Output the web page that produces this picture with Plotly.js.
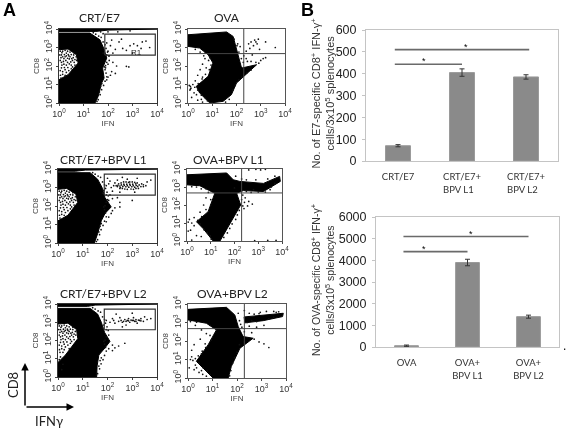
<!DOCTYPE html>
<html><head><meta charset="utf-8">
<script src="https://cdn.plot.ly/plotly-3.0.1.min.js"></script>
<style>html,body{margin:0;padding:0;background:#fff}#c{width:567px;height:428px;filter:blur(.45px)}</style>
</head><body><div id="c"></div>
<script>
// Bar chart data
const e7Categories=['CRT/E7','CRT/E7+<br>BPV L1\u00a0\u00a0\u00a0','CRT/E7+<br>BPV L2\u00a0\u00a0\u00a0'];
const e7Values=[70,405,385];
const e7Errors=[5,17,10];
const ovaCategories=['OVA','OVA+<br>BPV L1','OVA+<br>BPV L2'];
const ovaValues=[60,3900,1400];
const ovaErrors=[30,150,70];
const groupIndex=[0,1,2];
const e7SigTop=510, e7SigLow=443, ovaSigTop=5100, ovaSigLow=4400;
// Flow panels: [log10 IFN, log10 CD8] readings
const holeDots=[[.1,2.6],[.2,2.4],[.3,2.7],[.45,2.5],[.55,2.3],[.2,2.1],[.35,2.2],[.1,1.9],[.5,2.05],[.25,1.8],[.6,2.6],[.15,1.55],[.4,1.75],[.3,2.55],[.65,2.35],[.05,2.3],[.45,2.75],[.15,2.8],[.08,2.45],[.28,2.3],[.42,2.38],[.58,2.45],[.7,2.5],[.62,2.2],[.5,2.62],[.38,2.62],[.22,2.62],[.12,2.72],[.03,2.6],[.18,2.25],[.3,2.05],[.42,2.12],[.12,2.05],[.22,1.92],[.36,1.92],[.5,1.85],[.05,1.75],[.15,1.7],[.3,1.65],[.06,1.5],[.25,1.5],[.08,1.35],[.55,1.95],[.65,2.05],[.72,2.3],[.48,2.22],[.35,2.42],[.25,2.5],[.1,2.2],[.35,2.8],[.6,2.72],[.25,2.85],[.05,2.8],[.15,2.5],[.52,2.4],[.4,2.55]];
const rightEdgeDots=[[1.72,3.55],[1.8,3.3],[1.88,3.15],[1.92,2.95],[1.98,2.75],[2.03,2.55],[2.05,2.3],[1.95,2.2],[1.9,2.02],[1.88,1.8],[1.92,1.62],[1.95,1.42],[1.88,1.18],[1.82,.95],[1.74,.72],[1.68,.45],[1.6,.18],[1.55,.08],[1.75,1.05],[1.8,2.7],[1.62,3.62],[1.5,3.72],[1.4,3.8],[1.95,2.6],[1.85,2.85],[1.85,1.95],[1.7,.9],[1.65,.6]];
const p1Main=[[0,3.78],[1.26,3.78],[1.67,3.42],[1.82,2.97],[1.95,2.43],[1.78,1.89],[1.84,1.35],[1.74,1.08],[1.6,.36],[1.47,0],[0,0],[0,1.26],[.37,1.53],[.78,2.16],[.71,2.61],[.37,2.92],[0,2.88]];
const p1Strip=[[0,3.87],[1.5,3.87],[2,3.94],[4,3.97],[4,4],[0,4]];
const p1Dots=[[2.1,3.1],[2.3,2.9],[2.45,3.3],[2.6,2.95],[2.75,2.85],[2.9,3.1],[3.05,3.2],[3.2,3.1],[3.35,2.95],[3.4,3.3],[3.55,3.35],[3.7,3.0],[2.2,2.7],[2.0,2.8],[1.95,3.25],[2.05,2.55],[2.2,2.2],[2.35,2.0],[2.75,1.98],[2.85,1.95],[2.3,1.6],[2.1,1.5],[2,1.4],[1.95,1.25],[2.15,1.7],[1.9,1.9],[2,2.1],[2.55,3.45],[3.0,2.7],[2.15,3.4],[1.8,3.75],[2,3.85],[1.7,3.85],[2.4,3.85],[2.9,3.9]];
const p2Main=[[0,3.69],[1.59,3.84],[1.86,3.6],[2,2.88],[2.17,1.98],[2.21,1.89],[2.83,2.07],[2.34,1.48],[2,1.08],[1.79,.45],[1.45,.09],[.9,0],[.48,.54],[.34,.9],[.83,1.44],[1.03,2.16],[.83,2.61],[.48,2.97],[0,3.06]];
const p2Dots=[[2.5,3.2],[2.6,3.3],[2.75,3.4],[2.8,3.3],[2.7,3.1],[2.85,3.2],[2.9,3.45],[2.55,2.95],[3.2,3.3],[3.6,3.0],[2.4,2.8],[2.95,2.9],[2.65,2.6],[2.4,2.4],[3,2.3],[3.1,2.4],[3.2,2.45],[2.3,2.55],[2.15,3.05],[2.05,3.2],[.7,2.4],[.6,2.1],[.5,1.8],[.4,1.5],[.75,1.9],[.6,1.4],[.3,1.2],[.2,1.0],[.1,.9],[.12,.8],[.08,.7],[.25,.55],[.15,.3],[.4,.15],[.6,.05],[.55,.2],[.05,.95],[.1,.75],[.65,2.55],[.85,2.3],[.5,2.75],[.3,2.9],[.7,2.7],[.9,2.45],[.95,2.05],[.88,1.8],[.72,1.55],[.58,1.3],[.42,1.05],[.28,.85],[.4,.7],[.35,.45],[.55,.42],[.72,.25],[.8,.12],[1.9,3.45],[2.02,3.1],[2.1,2.75],[2.2,2.4],[2.28,2.2],[2.45,2.25],[2.6,2.25],[2.8,2.2],[2.92,2.15],[1.95,.95],[2.1,1.25],[2.22,1.4],[1.85,.7],[1.7,.2],[1.55,.05],[2.42,1.62],[2.6,1.78]];
const p3Main=[[0,3.8],[1.3,3.8],[1.6,3.45],[1.78,3.0],[1.9,2.45],[2.15,1.95],[1.9,1.6],[1.75,1.2],[1.6,.5],[1.47,0],[0,0],[0,1.2],[.4,1.5],[.8,2.2],[.72,2.65],[.35,2.95],[0,2.9]];
const p3Strip=[[0,3.88],[.7,3.88],[1.1,3.94],[4,3.97],[4,4],[0,4]];
const p3Dots=[[1.95,3.1],[2.05,3.2],[2.15,3.0],[2.25,3.1],[2.3,3.25],[2.4,3.05],[2.45,3.2],[2.5,2.95],[2.55,3.25],[2.6,2.95],[2.65,3.3],[2.7,2.92],[2.75,3.3],[2.8,2.9],[2.85,3.28],[2.9,3.3],[2.95,2.92],[3,3.3],[3.05,2.9],[3.1,3.28],[3.15,2.95],[3.2,3.25],[3.25,2.95],[3.35,3.05],[3.38,3.2],[3.45,3.05],[3.45,3.15],[3.55,3.1],[3.6,3.3],[3.75,3.4],[2.2,2.8],[2.5,2.75],[2.8,3.45],[3.1,2.75],[2.4,3.4],[2.1,2.6],[2,2.35],[2.2,2.4],[2.4,2.45],[2.5,2.2],[3,2.3],[2.3,1.9],[2.5,1.95],[2.2,1.75],[2.05,1.4],[1.95,1.15],[2.15,1.6],[2.1,3.35],[2,3.5],[2.6,3.55],[3.2,3.5],[2.35,3.1],[2.42,3.12],[2.5,3.08],[2.56,3.14],[2.62,3.06],[2.68,3.12],[2.74,3.04],[2.8,3.1],[2.86,3.02],[2.92,3.12],[2.98,3.04],[3.04,3.1],[3.1,3.02],[3.16,3.12],[3.22,3.06],[3.28,3.14],[2.52,3.0],[2.66,3.18],[2.78,3.18],[2.9,3.18],[3.02,3.18],[3.14,3.2]];
const p4Main=[[0,3.68],[1.67,3.78],[1.95,3.4],[2.23,3.31],[3.22,3.2],[3.9,3.59],[3.93,3.31],[3.22,2.75],[2.37,2.8],[2.09,2.65],[2.26,2],[1.94,1.25],[1.67,.6],[1.39,0],[1.1,0],[.68,.69],[.4,1.07],[.89,1.63],[1.17,2.65],[.54,3.07],[0,3.12]];
const p4Dots=[[2.5,2.75],[2.7,2.7],[3,2.72],[3.3,2.72],[3.5,2.85],[2.45,2.4],[2.6,2.2],[2.75,2.05],[2.55,1.95],[2.4,1.8],[2.3,2.3],[2.5,3.4],[2.6,3.95],[2.9,3.98],[3.1,3.95],[3.3,3.98],[.8,2.4],[.7,2],[.55,1.6],[.3,1.3],[.2,1.0],[.1,1.2],[.05,1.05],[.3,.85],[.15,.6],[.4,.3],[.6,.25],[.05,.55],[.6,2.9],[.4,3.0],[.9,2.7],[.2,.05],[2.85,.02],[3.4,.03],[3.75,.03],[1,2.3],[1,2.0],[.8,1.75],[.62,1.35],[.45,1.15],[.55,.95],[.72,.62],[.85,.48],[.98,.28],[1.02,.1],[2.35,2.55],[2.42,2.15],[2.35,1.95],[2.2,1.7],[2.12,1.45],[2.05,1.2],[1.9,.95],[1.8,.7],[1.7,.45],[1.55,.2],[.2,3.02],[.8,2.9],[2.0,2.95],[2.05,3.6],[2.3,3.45],[2.9,3.4],[3.4,3.45],[3.7,3.6],[3.55,3.0],[3.7,3.2],[2.8,2.85]];
const p5Main=[[0,3.76],[1.3,3.76],[1.6,3.45],[1.75,3],[1.88,2.45],[2.1,1.95],[1.9,1.6],[1.65,1.2],[1.58,.6],[1.56,0],[0,0],[0,.8],[.3,1.2],[.8,2.1],[.75,2.6],[.4,2.95],[0,2.9]];
const p5Strip=[[0,3.87],[1.2,3.87],[1.5,3.94],[4,3.97],[4,4],[0,4]];
const p5Dots=[[1.95,3.1],[2.1,3.0],[2.2,3.2],[2.3,2.95],[2.45,3.05],[2.5,3.25],[2.6,3.0],[2.7,3.15],[2.75,2.85],[2.8,3.1],[2.85,3.2],[2.9,3.0],[3,3.1],[3.05,3.25],[3.1,3.05],[3.15,3.15],[3.2,2.95],[3.3,3.1],[3.35,3.2],[3.45,3.05],[3.5,3.3],[3.6,3.15],[3.75,3.2],[2.35,3.45],[3.0,3.5],[2.6,2.75],[2.2,1.75],[2.3,1.6],[2.45,1.7],[2.2,1.45],[2.7,1.85],[2.05,1.55],[2.25,3.1],[2.55,3.1],[2.65,3.05],[2.75,3.05],[2.85,3.08],[2.95,3.12],[3.05,3.1],[3.15,3.05],[3.25,3.12],[3.35,3.08],[.2,1.35],[.45,1.55],[.1,1.1],[.05,.95],[.15,.4],[.2,.7]];
const p6Main=[[0,3.71],[1.57,3.82],[1.91,3.41],[2.05,2.78],[2.25,2.24],[2.66,2.15],[2.12,1.61],[1.77,.63],[1.64,0],[1.02,0],[.34,.9],[.82,1.79],[1.16,2.6],[.75,2.96],[0,3.14]];
const p6Pos=[[2.29,3.3],[3.07,3.4],[3.89,3.5],[3.86,3.32],[3.07,3.1],[2.32,2.98]];
const p6Dots=[[2.1,3.1],[2.15,2.9],[2.2,2.75],[2.5,2.8],[2.8,2.75],[3.1,2.85],[2.5,3.5],[2.95,3.55],[2.7,2.1],[2.9,1.95],[3.1,1.85],[3.3,1.65],[2.6,2.45],[2.3,2.5],[.1,3.05],[.3,2.85],[.55,2.6],[.75,2.4],[.5,2.1],[.7,1.85],[.25,1.8],[.15,1.5],[.55,1.3],[.2,.95],[.1,1],[.3,.7],[.25,.45],[.45,.3],[.6,.2],[.35,.55],[.55,.4],[.75,.1],[.05,.55],[.15,1.15],[3.5,3.6],[3.2,3.6],[2.3,3.65],[2.05,3.5],[.9,2.3],[.95,2.05],[.72,1.65],[.58,1.45],[.42,1.2],[.3,1.05],[.45,.8],[.62,.55],[.78,.38],[.9,.2],[2.3,1.95],[2.1,1.8],[2.0,1.4],[1.9,1.1],[1.82,.8],[1.75,.4],[1.7,.12],[3.6,3.55],[3.7,3.58],[2.7,3.45],[2.9,3.48],[3.3,3.2],[3.5,3.28],[2.6,3.1],[2.8,3.05],[2.42,3.0],[.9,2.85],[.35,3.02]];
const gate={x:[1.87,3.93],y:[2.59,3.72]};
const quad={x:2.3,y:2.67};
const logTicks=[1,10,100,1000,10000];
const logLabels=['10<sup>0</sup>','10<sup>1</sup>','10<sup>2</sup>','10<sup>3</sup>','10<sup>4</sup>'];
const W=567,H=428;
const panels=[
 {px:[59,157],py:[29,103],title:'CRT/E7',tx:99,ty:18,main:[p1Main,p1Strip],dots:p1Dots.concat(holeDots,rightEdgeDots),kind:'gate',frame:'#333'},
 {px:[188,285],py:[29,103],title:'OVA',tx:227,ty:18,main:[p2Main],dots:p2Dots,kind:'quad',frame:'#555'},
 {px:[58,157],py:[169,243],title:'CRT/E7+BPV L1',tx:103,ty:159,main:[p3Main,p3Strip],dots:p3Dots.concat(holeDots,rightEdgeDots),kind:'gate',frame:'#333'},
 {px:[187,282],py:[169,241],title:'OVA+BPV L1',tx:228,ty:159,main:[p4Main],dots:p4Dots,kind:'quad',frame:'#555'},
 {px:[58,157],py:[304,377],title:'CRT/E7+BPV L2',tx:103,ty:293,main:[p5Main,p5Strip],dots:p5Dots.concat(holeDots,rightEdgeDots),kind:'gate',frame:'#333'},
 {px:[188,286],py:[304,378],title:'OVA+BPV L2',tx:232,ty:293,main:[p6Main,p6Pos],dots:p6Dots,kind:'quad',frame:'#555'}
];
const dx=p=>[p[0]/W,p[1]/W], dy=p=>[1-p[1]/H,1-p[0]/H];
const pw=v=>Math.pow(10,v);
const traces=[],annotations=[],layout={width:W,height:H,margin:{l:0,r:0,t:0,b:0},paper_bgcolor:'#fff',plot_bgcolor:'#fff',showlegend:false,font:{family:'Liberation Sans',color:'#333'}};
const txt=(text,x,y,size,extra)=>annotations.push(Object.assign({text,x:x/W,y:1-y/H,xref:'paper',yref:'paper',showarrow:false,xanchor:'center',yanchor:'middle',font:{size,family:'Lato',color:'#222'}},extra||{}));
panels.forEach((p,i)=>{
 const n=i+1, xa='x'+n, ya='y'+n;
 layout['xaxis'+n]={domain:dx(p.px),anchor:ya,type:'log',range:[0,4],tickvals:logTicks,ticktext:logLabels,tickfont:{size:9,color:'#333'},ticklen:2,tickcolor:'#444',ticks:'outside',showline:true,mirror:true,linecolor:p.frame,linewidth:1,showgrid:false,zeroline:false,tickangle:0,
   title:{text:'IFN',font:{size:8,color:'#444'},standoff:1}};
 layout['yaxis'+n]={domain:dy(p.py),anchor:xa,type:'log',range:[0,4],tickvals:logTicks,ticktext:logLabels,tickfont:{size:9,color:'#333'},ticklen:2,tickcolor:'#444',ticks:'outside',showline:true,mirror:true,linecolor:p.frame,linewidth:1,showgrid:false,zeroline:false,tickangle:-90,
   title:{text:'CD8',font:{size:8,color:'#444'},standoff:1}};
 p.main.forEach(poly=>{
  const xs=poly.map(q=>pw(q[0])),ys=poly.map(q=>pw(q[1]));
  xs.push(xs[0]);ys.push(ys[0]);
  traces.push({type:'scatter',mode:'lines',x:xs,y:ys,xaxis:xa,yaxis:ya,fill:'toself',fillcolor:'#000',line:{color:'#000',width:1},hoverinfo:'skip'});
 });
 traces.push({type:'scatter',mode:'markers',x:p.dots.map(q=>pw(q[0])),y:p.dots.map(q=>pw(q[1])),xaxis:xa,yaxis:ya,marker:{color:'#111',size:1.7},hoverinfo:'skip'});
 if(p.kind==='gate'){
  traces.push({type:'scatter',mode:'lines',x:[gate.x[0],gate.x[1],gate.x[1],gate.x[0],gate.x[0]].map(pw),y:[gate.y[0],gate.y[0],gate.y[1],gate.y[1],gate.y[0]].map(pw),xaxis:xa,yaxis:ya,line:{color:'#333',width:1.2},hoverinfo:'skip'});
 }else{
  traces.push({type:'scatter',mode:'lines',x:[quad.x,quad.x].map(pw),y:[0,4].map(pw),xaxis:xa,yaxis:ya,line:{color:'#444',width:1},hoverinfo:'skip'});
  traces.push({type:'scatter',mode:'lines',x:[0,4].map(pw),y:[quad.y,quad.y].map(pw),xaxis:xa,yaxis:ya,line:{color:'#444',width:1},hoverinfo:'skip'});
 }
 txt(p.title,p.tx,p.ty,12);
});
txt('R1',136,52,8,{font:{size:8,family:'Liberation Sans',color:'#222'}});
// Bar charts
function bars(n,px,py,cats,vals,errs,yMax,dtick,sigTop,sigLow,sigTopEnd,title,titleSize,starTopX,starLowX){
 const xa='x'+n,ya='y'+n;
 layout['xaxis'+n]={domain:dx(px),anchor:ya,range:[-.5,2.5],tickvals:groupIndex,ticktext:cats,ticks:'',showline:true,mirror:true,linecolor:'#c4c4c4',linewidth:1,showgrid:false,zeroline:false,tickfont:{family:'Lato',size:9.5,color:'#333'},ticklabelstandoff:7,tickangle:0};
 layout['yaxis'+n]={domain:dy(py),anchor:xa,range:[0,yMax],dtick,ticks:'outside',ticklen:3,tickcolor:'#c4c4c4',showline:true,mirror:true,linecolor:'#c4c4c4',linewidth:1,showgrid:false,zeroline:false,tickfont:{family:'Liberation Sans',size:12.5,color:'#222'},ticklabelstandoff:3};
 traces.push({type:'bar',x:groupIndex,y:vals,width:.39,xaxis:xa,yaxis:ya,marker:{color:'#8a8a8a',line:{color:'#9a9a9a',width:1}},error_y:{type:'data',array:errs,visible:true,color:'#333',thickness:1,width:2.5},hoverinfo:'skip'});
 traces.push({type:'scatter',mode:'lines',x:[-.05,sigTopEnd],y:[sigTop,sigTop],xaxis:xa,yaxis:ya,line:{color:'#6a6a6a',width:1.6},hoverinfo:'skip'});
 traces.push({type:'scatter',mode:'lines',x:[-.05,1],y:[sigLow,sigLow],xaxis:xa,yaxis:ya,line:{color:'#6a6a6a',width:1.6},hoverinfo:'skip'});
 annotations.push({text:'*',x:starTopX,y:sigTop+yMax*.022,xref:xa,yref:ya,showarrow:false,yanchor:'middle',font:{size:9,family:'Liberation Sans',color:'#000'}});
 annotations.push({text:'*',x:starLowX,y:sigLow+yMax*.022,xref:xa,yref:ya,showarrow:false,yanchor:'middle',font:{size:9,family:'Liberation Sans',color:'#000'}});
 txt(title,322,(py[0]+py[1])/2-2,titleSize,{textangle:-90,font:{size:titleSize,family:'Liberation Sans',color:'#333'}});
}
bars(7,[366,558],[30,161],e7Categories,e7Values,e7Errors,600,100,e7SigTop,e7SigLow,2.05,'No. of E7-specific CD8<sup>+</sup> IFN-γ<sup>+</sup><br>cells/3x10<sup>5</sup> splenocytes',11,1.06,.41);
bars(8,[376,559],[217,347],ovaCategories,ovaValues,ovaErrors,6000,1000,ovaSigTop,ovaSigLow,2,'No. of OVA-specific CD8<sup>+</sup> IFN-γ<sup>+</sup><br>cells/3x10<sup>5</sup> splenocytes',10.5,1.06,.29);
txt('A',9,10,18,{font:{size:18,family:'Liberation Sans',color:'#000'},text:'<b>A</b>'});
txt('B',307,10,18,{font:{size:18,family:'Liberation Sans',color:'#000'},text:'<b>B</b>'});
txt('.',564,346,12,{font:{size:12,family:'Liberation Sans',color:'#000'}});
txt('CD8',13,385,13,{textangle:-90});
txt('IFNγ',49,421,13);
// Axis arrows
annotations.push({x:25/W,y:1-363/H,xref:'paper',yref:'paper',ax:0,ay:44,showarrow:true,arrowhead:2,arrowsize:1,arrowwidth:1.5,arrowcolor:'#000',text:''});
annotations.push({x:74/W,y:1-407/H,xref:'paper',yref:'paper',ax:-49,ay:0,showarrow:true,arrowhead:2,arrowsize:1,arrowwidth:1.5,arrowcolor:'#000',text:''});
layout.annotations=annotations;
Plotly.newPlot('c',traces,layout,{displayModeBar:false,staticPlot:true});
</script></body></html>
